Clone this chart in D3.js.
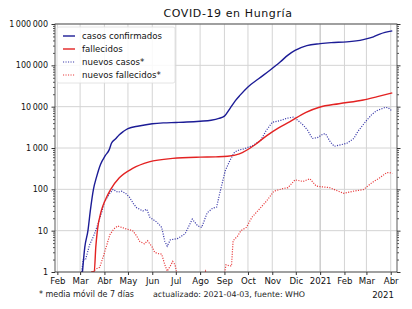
<!DOCTYPE html>
<html>
<head>
<meta charset="utf-8">
<script src="https://cdn.jsdelivr.net/npm/d3@7"></script>
<style>
  body { margin: 0; background: #fff; }
  svg { display: block; font-family: "DejaVu Sans", sans-serif; }
</style>
</head>
<body>
<div class="chart"></div>
<script>
// cumulative confirmed cases
var confirmados = [
    ["2020-03-04", 1], ["2020-03-07", 4], ["2020-03-11", 10], ["2020-03-14", 30],
    ["2020-03-18", 100], ["2020-03-22", 200], ["2020-03-27", 400], ["2020-04-02", 650],
    ["2020-04-07", 900], ["2020-04-10", 1300], ["2020-04-15", 1650], ["2020-04-20", 2100],
    ["2020-04-25", 2500], ["2020-05-01", 2950], ["2020-05-15", 3400], ["2020-06-01", 3850],
    ["2020-06-15", 4050], ["2020-07-01", 4150], ["2020-07-15", 4250], ["2020-08-01", 4450],
    ["2020-08-15", 4700], ["2020-08-25", 5200], ["2020-09-01", 5900], ["2020-09-08", 9000],
    ["2020-09-15", 14000], ["2020-09-21", 19000], ["2020-10-01", 30000], ["2020-10-15", 48000],
    ["2020-10-29", 76000], ["2020-11-11", 120000], ["2020-11-21", 177000], ["2020-11-30", 230000],
    ["2020-12-15", 300000], ["2021-01-01", 335000], ["2021-01-15", 355000], ["2021-02-04", 370000],
    ["2021-02-25", 420000], ["2021-03-10", 490000], ["2021-03-18", 570000], ["2021-04-03", 680000]
];

// cumulative deaths
var fallecidos = [
    ["2020-03-15", 1], ["2020-03-19", 1], ["2020-03-21", 4], ["2020-03-23", 10],
    ["2020-03-28", 30], ["2020-04-03", 60], ["2020-04-09", 100], ["2020-04-20", 190],
    ["2020-05-07", 320], ["2020-05-28", 460], ["2020-06-27", 560], ["2020-08-01", 600],
    ["2020-08-21", 610], ["2020-09-05", 630], ["2020-09-20", 720], ["2020-10-10", 1200],
    ["2020-10-25", 2000], ["2020-11-08", 3000], ["2020-11-23", 4300], ["2020-12-14", 7300],
    ["2020-12-31", 9700], ["2021-01-25", 11800], ["2021-02-25", 14500], ["2021-03-15", 17500],
    ["2021-04-03", 21500]
];

// new cases, 7 day moving average
var nuevosCasos = [
    ["2020-03-03", 1], ["2020-03-05", 2], ["2020-03-08", 2], ["2020-03-13", 4.5],
    ["2020-03-19", 8], ["2020-03-24", 15], ["2020-03-29", 30], ["2020-04-01", 50],
    ["2020-04-08", 80], ["2020-04-12", 100], ["2020-04-18", 85], ["2020-04-23", 90],
    ["2020-04-28", 80], ["2020-05-03", 64], ["2020-05-08", 45], ["2020-05-12", 36],
    ["2020-05-20", 30], ["2020-05-25", 33], ["2020-05-29", 21], ["2020-06-07", 16],
    ["2020-06-13", 12], ["2020-06-17", 5.5], ["2020-06-20", 4.2], ["2020-06-24", 6],
    ["2020-07-04", 6.5], ["2020-07-13", 8.5], ["2020-07-22", 19], ["2020-07-29", 13],
    ["2020-08-03", 12], ["2020-08-10", 27], ["2020-08-17", 35], ["2020-08-22", 37],
    ["2020-08-26", 80], ["2020-09-02", 280], ["2020-09-08", 500], ["2020-09-14", 800],
    ["2020-09-20", 900], ["2020-09-26", 950], ["2020-10-07", 1150], ["2020-10-17", 1500],
    ["2020-10-24", 2600], ["2020-11-01", 4200], ["2020-11-11", 4600], ["2020-11-19", 5200],
    ["2020-11-28", 5600], ["2020-12-04", 4600], ["2020-12-11", 3500], ["2020-12-16", 2700],
    ["2020-12-22", 1700], ["2020-12-29", 1800], ["2021-01-05", 2200], ["2021-01-08", 2200],
    ["2021-01-14", 1400], ["2021-01-19", 1100], ["2021-02-04", 1300], ["2021-02-13", 1700],
    ["2021-02-18", 2500], ["2021-03-01", 4600], ["2021-03-08", 6500], ["2021-03-14", 8000],
    ["2021-03-25", 9600], ["2021-03-29", 9400], ["2021-04-02", 8000]
];

// new deaths, 7 day moving average
var nuevosFallecidos = [
    ["2020-03-17", 1], ["2020-03-22", 1.2], ["2020-03-26", 1.3], ["2020-03-31", 2.5],
    ["2020-04-04", 4.5], ["2020-04-08", 8], ["2020-04-13", 11], ["2020-04-18", 13],
    ["2020-04-23", 12], ["2020-04-29", 11], ["2020-05-07", 10], ["2020-05-12", 7.5],
    ["2020-05-16", 5.5], ["2020-05-22", 4.8], ["2020-05-26", 5.7], ["2020-06-01", 4],
    ["2020-06-04", 3], ["2020-06-08", 2.8], ["2020-06-13", 2.7], ["2020-06-17", 1.5],
    ["2020-06-20", 1.05], ["2020-06-24", 1.4], ["2020-06-27", 1.8], ["2020-06-30", 1.5],
    ["2020-07-02", 1], ["2020-07-06", 0.6], ["2020-07-20", 0.4], ["2020-08-05", 0.7],
    ["2020-08-08", 1.05], ["2020-08-11", 0.7], ["2020-08-25", 0.4], ["2020-09-01", 0.9],
    ["2020-09-03", 1.5], ["2020-09-08", 1.4], ["2020-09-10", 1.4], ["2020-09-12", 5.7],
    ["2020-09-18", 7.5], ["2020-09-22", 10], ["2020-09-29", 12], ["2020-10-06", 21],
    ["2020-10-16", 34], ["2020-10-25", 53], ["2020-11-03", 90], ["2020-11-15", 105],
    ["2020-11-21", 110], ["2020-11-30", 170], ["2020-12-10", 155], ["2020-12-19", 180],
    ["2020-12-27", 120], ["2021-01-03", 115], ["2021-01-13", 110], ["2021-01-31", 80],
    ["2021-02-12", 90], ["2021-02-25", 98], ["2021-03-08", 145], ["2021-03-18", 190],
    ["2021-03-27", 255], ["2021-04-01", 250], ["2021-04-03", 240]
];

var monthNames = ["2021", "Feb", "Mar", "Abr", "May", "Jun", "Jul", "Ago", "Sep", "Oct", "Nov", "Dic"];
var yTickValues = [1, 10, 100, 1000, 10000, 100000, 1000000];
var yTickLabels = ["1", "10", "100", "1\u2009000", "10\u2009000", "100\u2009000", "1\u2009000\u2009000"];
var legendLabels = ["casos confirmados", "fallecidos", "nuevos casos*", "nuevos fallecidos*"];

var width = 412, height = 309;
var margin = {top: 24, right: 15, bottom: 37, left: 55};
var innerW = width - margin.left - margin.right,
    innerH = height - margin.top - margin.bottom;

var parse = d3.utcParse("%Y-%m-%d");

var x = d3.scaleUtc()
    .domain([parse("2020-01-29"), parse("2021-04-09")])
    .range([0, innerW]);

var y = d3.scaleLog()
    .domain([1, 1e6])
    .range([innerH, 0]);

var svg = d3.select("div.chart").append("svg")
    .attr("width", width)
    .attr("height", height);

// title
svg.append("text")
    .attr("x", margin.left + innerW / 2 + 2)
    .attr("y", 17)
    .attr("text-anchor", "middle")
    .attr("font-size", "11px")
    .attr("letter-spacing", "0.6px")
    .attr("fill", "#111")
    .text("COVID-19 en Hungría");

var g = svg.append("g")
    .attr("transform", "translate(" + margin.left + "," + margin.top + ")");

g.append("clipPath").attr("id", "clip")
    .append("rect").attr("width", innerW).attr("height", innerH);

var months = d3.utcMonth.range(parse("2020-02-01"), parse("2021-04-02"));

// grid
g.selectAll(".vgrid")
    .data(months)
    .enter().append("line")
    .attr("x1", function (d) { return x(d); })
    .attr("x2", function (d) { return x(d); })
    .attr("y1", 0).attr("y2", innerH)
    .attr("stroke", function (d) { return d.getUTCMonth() === 0 ? "#b4b4b4" : "#d4d4d4"; })
    .attr("stroke-width", 1);

g.selectAll(".hgrid")
    .data(yTickValues)
    .enter().append("line")
    .attr("x1", 0).attr("x2", innerW)
    .attr("y1", function (d) { return y(d); })
    .attr("y2", function (d) { return y(d); })
    .attr("stroke", "#d4d4d4")
    .attr("stroke-width", 1);

// lines
var line = d3.line()
    .x(function (d) { return x(parse(d[0])); })
    .y(function (d) { return y(d[1]); });

var smooth = d3.line()
    .x(function (d) { return x(parse(d[0])); })
    .y(function (d) { return y(d[1]); })
    .curve(d3.curveMonotoneX);

var series = [
    {data: nuevosFallecidos, gen: line, color: "#e8393a", dash: "1.1,1.4", w: 1.2},
    {data: nuevosCasos, gen: line, color: "#3a3aaa", dash: "1.1,1.4", w: 1.2},
    {data: fallecidos, gen: smooth, color: "#e32222", dash: null, w: 1.4},
    {data: confirmados, gen: smooth, color: "#1c1c96", dash: null, w: 1.4}
];

var plot = g.append("g").attr("clip-path", "url(#clip)");
series.forEach(function (s) {
    plot.append("path")
        .datum(s.data)
        .attr("d", s.gen)
        .attr("fill", "none")
        .attr("stroke", s.color)
        .attr("stroke-width", s.w)
        .attr("stroke-dasharray", s.dash);
});

// frame
g.append("rect")
    .attr("width", innerW).attr("height", innerH)
    .attr("fill", "none")
    .attr("stroke", "#333")
    .attr("stroke-width", 0.8);

// x axis
var xAxis = d3.axisBottom(x)
    .tickValues(months)
    .tickSize(3)
    .tickFormat(function (d) { return monthNames[d.getUTCMonth()]; });

g.append("g")
    .attr("transform", "translate(0," + innerH + ")")
    .call(xAxis)
    .call(function (a) {
        a.select(".domain").remove();
        a.selectAll("line").attr("stroke", "#333");
        a.selectAll("text").attr("font-size", "8.6px").attr("fill", "#111")
            .attr("font-family", "DejaVu Sans, sans-serif").attr("dy", "0.75em").attr("y", 6);
    });

// y axis left and right, minor ticks
var minor = [];
yTickValues.slice(0, -1).forEach(function (v) {
    for (var k = 2; k <= 9; k++) minor.push(v * k);
});

g.append("g")
    .call(d3.axisLeft(y).tickValues(yTickValues).tickSize(3.5)
        .tickFormat(function (d, i) { return yTickLabels[i]; }))
    .call(function (a) {
        a.select(".domain").remove();
        a.selectAll("line").attr("stroke", "#333");
        a.selectAll("text").attr("font-size", "8px").attr("fill", "#111")
            .attr("font-family", "DejaVu Sans, sans-serif").attr("x", -7);
    });

g.append("g")
    .call(d3.axisLeft(y).tickValues(minor).tickSize(2).tickFormat(""))
    .call(function (a) {
        a.select(".domain").remove();
        a.selectAll("line").attr("stroke", "#555");
    });

g.append("g")
    .attr("transform", "translate(" + innerW + ",0)")
    .call(d3.axisRight(y).tickValues(yTickValues).tickSize(3.5).tickFormat(""))
    .call(function (a) {
        a.select(".domain").remove();
        a.selectAll("line").attr("stroke", "#333");
    });

g.append("g")
    .attr("transform", "translate(" + innerW + ",0)")
    .call(d3.axisRight(y).tickValues(minor).tickSize(2).tickFormat(""))
    .call(function (a) {
        a.select(".domain").remove();
        a.selectAll("line").attr("stroke", "#555");
    });

// legend
var legend = g.append("g").attr("transform", "translate(2,3)");
legend.append("rect")
    .attr("width", 118).attr("height", 56)
    .attr("rx", 2)
    .attr("fill", "#fff").attr("fill-opacity", 0.85)
    .attr("stroke", "#ddd").attr("stroke-width", 0.8);

var legendSeries = [series[3], series[2], series[1], series[0]];
legendSeries.forEach(function (s, i) {
    var ly = 9 + i * 13;
    legend.append("line")
        .attr("x1", 6).attr("x2", 18)
        .attr("y1", ly).attr("y2", ly)
        .attr("stroke", s.color).attr("stroke-width", s.w)
        .attr("stroke-dasharray", s.dash);
    legend.append("text")
        .attr("x", 25).attr("y", ly)
        .attr("dy", "0.35em")
        .attr("font-size", "8.6px")
        .attr("fill", "#111")
        .text(legendLabels[i]);
});

// footnotes
svg.append("text")
    .attr("x", 39).attr("y", 297)
    .attr("font-size", "8px").attr("fill", "#222")
    .text("* media móvil de 7 días");
svg.append("text")
    .attr("x", 153).attr("y", 297)
    .attr("font-size", "7.9px").attr("fill", "#222")
    .text("actualizado: 2021-04-03, fuente: WHO");
svg.append("text")
    .attr("x", 394).attr("y", 298)
    .attr("text-anchor", "end")
    .attr("font-size", "8.6px").attr("fill", "#111")
    .text("2021");
</script>
</body>
</html>
